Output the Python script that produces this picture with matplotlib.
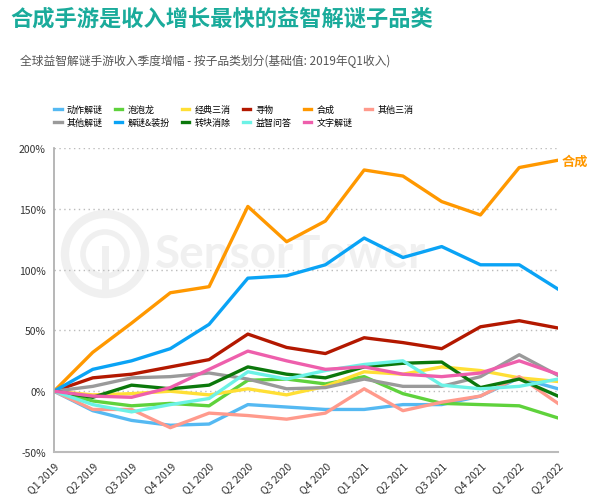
import matplotlib
matplotlib.use('Agg')
import matplotlib.pyplot as plt
from matplotlib.patches import Circle

plt.rcParams['font.family'] = ['Noto Sans CJK SC', 'DejaVu Sans']

# datos (% de crecimiento respecto a Q1 2019)
quarters = ['Q1 2019', 'Q2 2019', 'Q3 2019', 'Q4 2019', 'Q1 2020', 'Q2 2020', 'Q3 2020',
            'Q4 2020', 'Q1 2021', 'Q2 2021', 'Q3 2021', 'Q4 2021', 'Q1 2022', 'Q2 2022']

dongzuo = [0, -16, -24, -28, -27, -11, -13, -15, -15, -11, -11, -4, 11, 2]       # 动作解谜
paopaolong = [0, -8, -12, -10, -12, 9, 10, 6, 12, -2, -10, -11, -12, -22]       # 泡泡龙
jingdian = [0, -3, -2, 0, -3, 2, -3, 4, 16, 14, 20, 17, 11, 8]                  # 经典三消
xunwu = [0, 11, 14, 20, 26, 47, 36, 31, 44, 40, 35, 53, 58, 52]                 # 寻物
hecheng = [0, 32, 56, 81, 86, 152, 123, 140, 182, 177, 156, 145, 184, 190]      # 合成
qita_sanxiao = [0, -15, -15, -30, -18, -20, -23, -18, 2, -16, -9, -4, 12, -10]  # 其他三消
qita_jiemi = [0, 4, 11, 12, 15, 10, 2, 3, 10, 4, 4, 12, 30, 13]                 # 其他解谜
zhuangban = [0, 18, 25, 35, 55, 93, 95, 104, 126, 110, 119, 104, 104, 84]       # 解谜&装扮
zhuankuai = [0, -5, 5, 2, 5, 20, 14, 11, 20, 23, 24, 3, 10, -4]                 # 转块消除
wenda = [0, -11, -17, -11, -6, 16, 10, 17, 22, 25, 5, 2, 4, 10]                 # 益智问答
wenzi = [0, -4, -5, 3, 18, 33, 25, 18, 20, 14, 12, 15, 25, 14]                  # 文字解谜

series = [
    ('动作解谜', dongzuo, '#55b9f2'),
    ('泡泡龙', paopaolong, '#5fd23c'),
    ('经典三消', jingdian, '#ffdf35'),
    ('寻物', xunwu, '#b31800'),
    ('合成', hecheng, '#ff9800'),
    ('其他三消', qita_sanxiao, '#ff9a8c'),
    ('其他解谜', qita_jiemi, '#9a9a9a'),
    ('解谜&装扮', zhuangban, '#0aa3f5'),
    ('转块消除', zhuankuai, '#0b780b'),
    ('益智问答', wenda, '#6cf2e6'),
    ('文字解谜', wenzi, '#ee5fac'),
]

fig = plt.figure(figsize=(6.0, 5.02), dpi=100)
ax = fig.add_axes([0.09, 0.0976, 0.84, 0.6054])

# marca de agua
wm = fig.add_axes([0, 0, 1, 1], zorder=-1)
wm.set_xlim(0, 600)
wm.set_ylim(502, 0)
wm.axis('off')
wm_col = '#f0f0f0'
wm.add_patch(Circle((105, 255), 40, fill=False, ec=wm_col, lw=6))
wm.add_patch(Circle((105, 255), 22, fill=False, ec=wm_col, lw=4))
wm.plot([105, 105], [250, 293], color=wm_col, lw=5)
wm.text(155, 255, 'SensorTower', fontsize=33, fontweight='bold', color=wm_col,
        va='center', ha='left', family=['Lato', 'DejaVu Sans'])
ax.patch.set_alpha(0)

x = list(range(len(quarters)))
handles = {}
for name, vals, col in series:
    h, = ax.plot(x, vals, color=col, lw=2.4, label=name)
    handles[name] = h

ax.set_xlim(0, 13)
ax.set_ylim(-50, 200)
ax.set_yticks([-50, 0, 50, 100, 150, 200])
ax.set_yticklabels([f'{v}%' for v in [-50, 0, 50, 100, 150, 200]], fontsize=7.5, color='#333333')
ax.set_xticks(x)
ax.set_xticklabels(quarters, rotation=45, ha='right', rotation_mode='anchor', fontsize=7.5, color='#333333')
ax.tick_params(length=0, pad=6)
for v in [0, 50, 100, 150, 200]:
    ax.axhline(v, color='#bbbbbb', lw=1, ls=(0, (1, 2.5)), zorder=0)
for s in ['top', 'right']:
    ax.spines[s].set_visible(False)
ax.spines['left'].set_color('#aaaaaa')
ax.spines['bottom'].set_color('#bbbbbb')
ax.spines['left'].set_linewidth(1.2)
ax.spines['bottom'].set_linewidth(1.5)

ax.text(13.1, hecheng[-1], '合成', color='#ff9800', fontsize=9.5, fontweight='bold',
        va='center', ha='left', clip_on=False)

order = ['动作解谜', '其他解谜', '泡泡龙', '解谜&装扮', '经典三消', '转块消除',
         '寻物', '益智问答', '合成', '文字解谜', '其他三消']
fig.legend([handles[n] for n in order], order, ncol=6, loc='upper left',
           bbox_to_anchor=(0.077, 0.805), frameon=False, fontsize=6.5,
           handlelength=0.8, handletextpad=0.6, columnspacing=1.35, labelspacing=0.45)

fig.text(0.017, 0.962, '合成手游是收入增长最快的益智解谜子品类', fontsize=16, fontweight='bold',
         color='#1aab9b', va='center', ha='left')
fig.text(0.033, 0.877, '全球益智解谜手游收入季度增幅 - 按子品类划分(基础值: 2019年Q1收入)',
         fontsize=8.5, color='#555555', va='center', ha='left')

fig.savefig('out.png', dpi=100)
